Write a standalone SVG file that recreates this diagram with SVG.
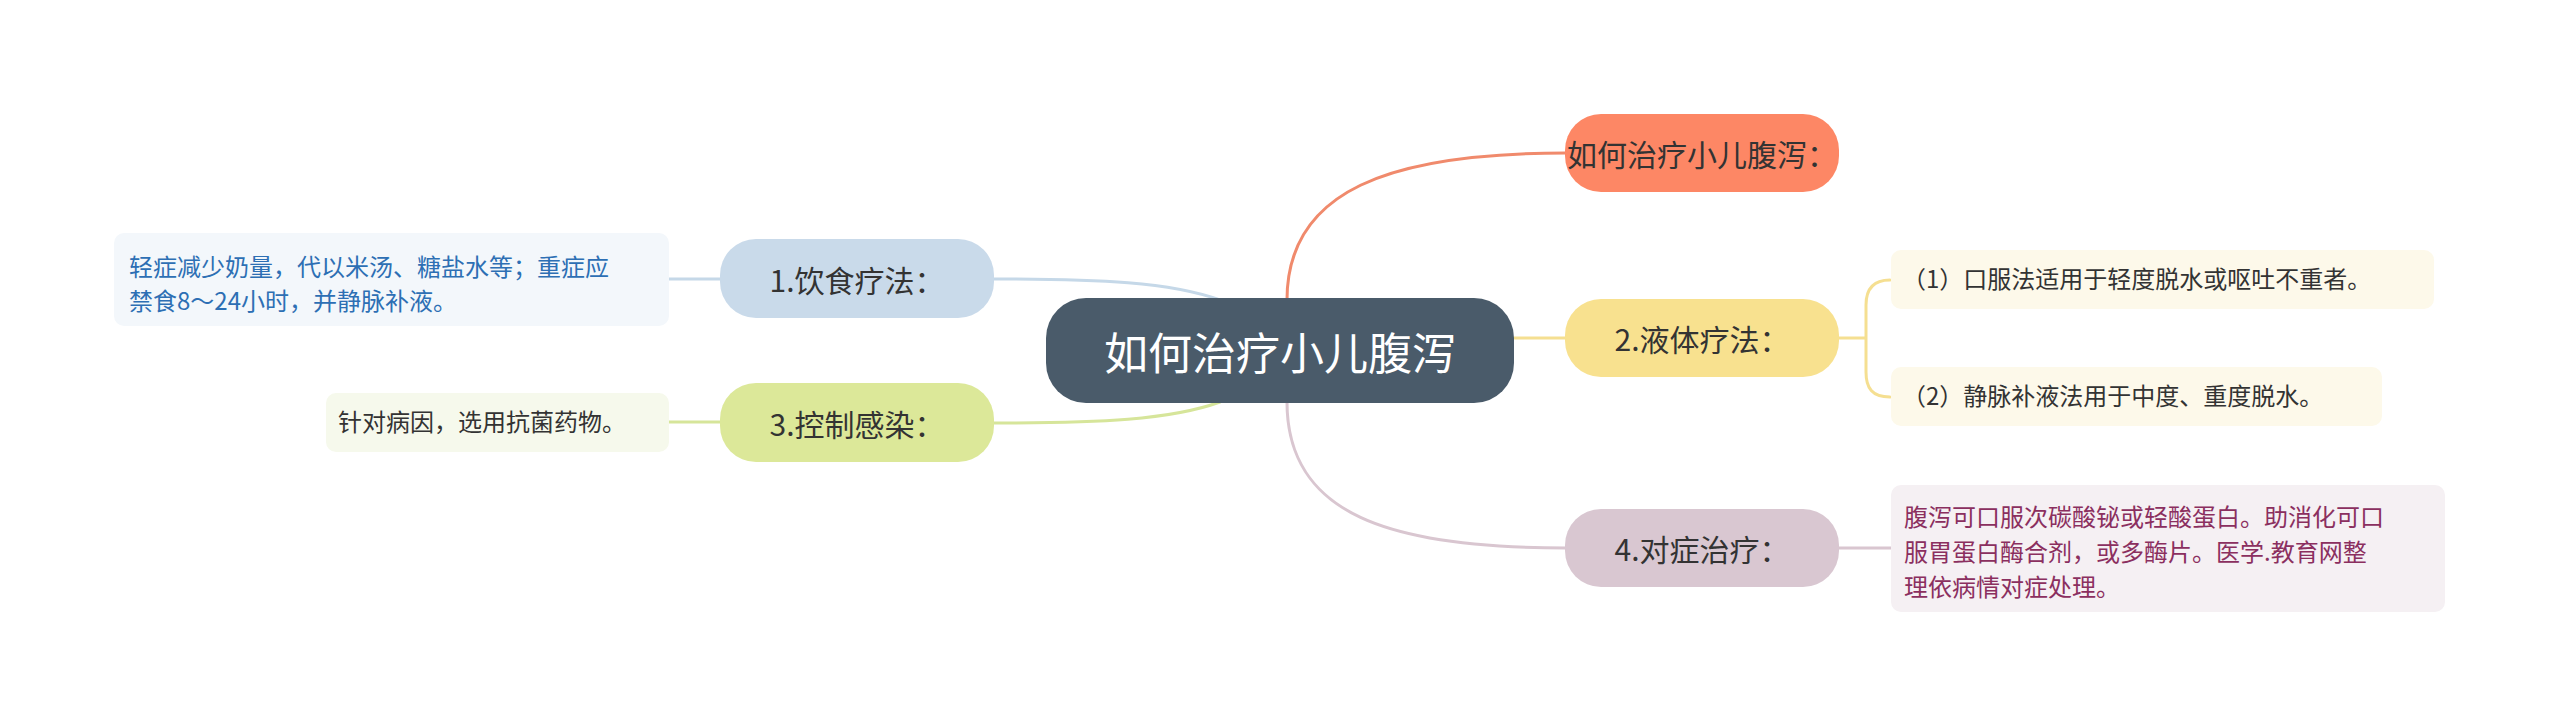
<svg xmlns="http://www.w3.org/2000/svg" width="2560" height="726" viewBox="0 0 2560 726">
<style>
text{font-family:"Noto Sans CJK SC","Noto Sans",sans-serif;}
.n{font-size:30px;fill:#333;text-anchor:middle;dominant-baseline:central;}
.l{font-size:24px;fill:#333;}
.c{fill:none;stroke-width:3;stroke-linecap:round;}
</style>
<rect width="2560" height="726" fill="#fff"/>
<g id="connectors">
<path class="c" stroke="#F08A6C" d="M1287,300 C1287,190 1390,153 1566,153"/>
<path class="c" stroke="#D9C6D0" d="M1287,402 C1287,515 1390,548 1566,548"/>
<path class="c" stroke="#F5DF91" d="M1512,338 L1566,338"/>
<path class="c" stroke="#F5DF91" d="M1838,338 L1865,338 M1890,280 C1872,280 1866,290 1866,305 L1866,372 C1866,388 1872,397 1890,397"/>
<path class="c" stroke="#D9C6D0" d="M1838,548 L1892,548"/>
<path class="c" stroke="#C5D8E8" d="M1220,300 C1170,282 1100,279 994,279"/>
<path class="c" stroke="#D6E59A" d="M1220,402 C1170,420 1100,423 994,423"/>
<path class="c" stroke="#C5D8E8" d="M668,279 L720,279"/>
<path class="c" stroke="#D6E59A" d="M668,422 L720,422"/>
</g>
<g id="center"><rect x="1046" y="298" width="468" height="105" rx="40" fill="#4A5B6A"/><text x="1280" y="351" font-size="44" fill="#fff" text-anchor="middle" dominant-baseline="central">如何治疗小儿腹泻</text></g>
<g id="top"><rect x="1565" y="114" width="274" height="78" rx="36" fill="#FD8765"/><text class="n" x="1702" y="153">如何治疗小儿腹泻：</text></g>
<g id="n2"><rect x="1565" y="299" width="274" height="78" rx="36" fill="#F8E18F"/><text class="n" x="1702" y="338">2.液体疗法：</text></g>
<g id="n4"><rect x="1565" y="509" width="274" height="78" rx="36" fill="#D9C7D1"/><text class="n" x="1702" y="548">4.对症治疗：</text></g>
<g id="n1"><rect x="720" y="239" width="274" height="79" rx="36" fill="#C9DAEA"/><text class="n" x="857" y="279">1.饮食疗法：</text></g>
<g id="n3"><rect x="720" y="383" width="274" height="79" rx="36" fill="#DCE899"/><text class="n" x="857" y="423">3.控制感染：</text></g>
<g id="leaf1"><rect x="114" y="233" width="555" height="93" rx="10" fill="#F3F7FB"/><text class="l" fill="#2D6FB4" style="fill:#2D6FB4"><tspan x="129" y="276">轻症减少奶量，代以米汤、糖盐水等；重症应</tspan><tspan x="129" y="310">禁食8～24小时，并静脉补液。</tspan></text></g>
<g id="leaf3"><rect x="326" y="393" width="343" height="59" rx="10" fill="#F6F9EC"/><text class="l" x="338" y="431">针对病因，选用抗菌药物。</text></g>
<g id="leaf2a"><rect x="1891" y="250" width="543" height="59" rx="10" fill="#FDF9EA"/><text class="l" x="1902" y="288">（1）口服法适用于轻度脱水或呕吐不重者。</text></g>
<g id="leaf2b"><rect x="1891" y="367" width="491" height="59" rx="10" fill="#FDF9EA"/><text class="l" x="1902" y="405">（2）静脉补液法用于中度、重度脱水。</text></g>
<g id="leaf4"><rect x="1891" y="485" width="554" height="127" rx="10" fill="#F5F0F3"/><text class="l" style="fill:#8B2F5F"><tspan x="1904" y="526">腹泻可口服次碳酸铋或轻酸蛋白。助消化可口</tspan><tspan x="1904" y="561">服胃蛋白酶合剂，或多酶片。医学.教育网整</tspan><tspan x="1904" y="596">理依病情对症处理。</tspan></text></g>
</svg>
